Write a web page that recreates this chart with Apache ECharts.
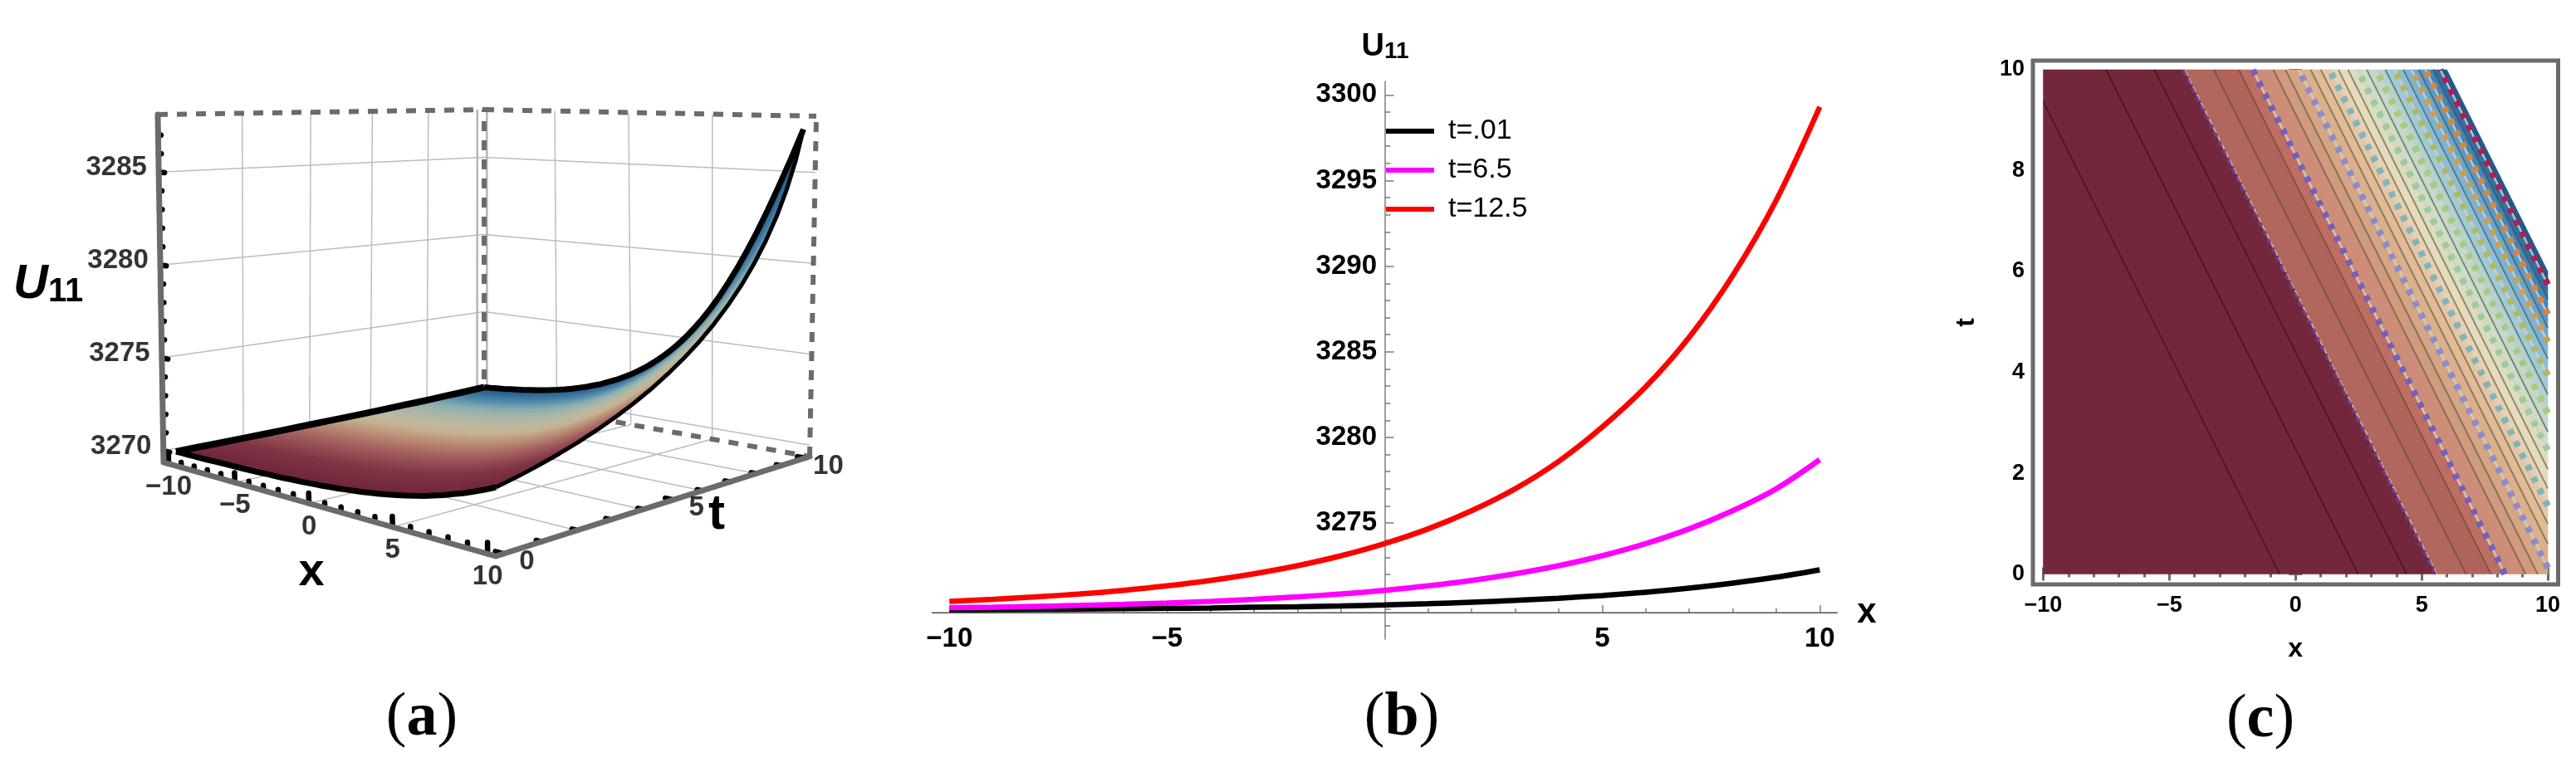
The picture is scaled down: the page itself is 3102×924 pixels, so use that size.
<!DOCTYPE html>
<html><head><meta charset="utf-8">
<style>html,body{margin:0;padding:0;background:#fff}#c{width:3102px;height:924px}</style>
<script src="https://cdn.jsdelivr.net/npm/echarts@6/dist/echarts.min.js"></script>
</head><body><div id="c"></div>
<script>
// ---------- data ----------
// panel (b)
const xB = [-10,-9,-8,-7,-6,-5,-4,-3,-2,-1,0,1,2,3,4,5,6,7,8,9,10];
const t001 = [3269.94,3269.95,3269.96,3269.98,3270.00,3270.02,3270.04,3270.08,3270.11,3270.16,3270.22,3270.29,3270.38,3270.48,3270.61,3270.77,3270.96,3271.20,3271.49,3271.84,3272.27];
const t65 = [3270.06,3270.09,3270.14,3270.19,3270.25,3270.33,3270.43,3270.55,3270.69,3270.86,3271.07,3271.33,3271.65,3272.04,3272.51,3273.09,3273.80,3274.66,3275.72,3277.00,3278.70];
const t125 = [3270.43,3270.55,3270.69,3270.86,3271.07,3271.33,3271.65,3272.04,3272.51,3273.09,3273.80,3274.66,3275.72,3277.00,3278.60,3280.60,3282.95,3285.85,3289.45,3293.85,3299.30];
const legendNames = ['t=.01','t=6.5','t=12.5'];
const yBLabels = [3275,3280,3285,3290,3295,3300];
const yBMinor = [3269,3270,3271,3272,3273,3274,3276,3277,3278,3279,3281,3282,3283,3284,3286,3287,3288,3289,3291,3292,3293,3294,3296,3297,3298,3299];
const xLabels = [-10,-5,5,10];
const xMinor = [-9,-8,-7,-6,-4,-3,-2,-1,1,2,3,4,6,7,8,9];
// panel (a): height of the sheet along x+t, for x+t = -10, -9.5, ... 20
const uByXi = [3269.94,3269.95,3269.95,3269.96,3269.96,3269.97,3269.98,3269.99,3270.00,3270.01,3270.02,3270.03,3270.04,3270.06,3270.08,3270.09,3270.11,3270.14,3270.16,3270.19,3270.22,3270.25,3270.29,3270.33,3270.38,3270.43,3270.48,3270.55,3270.61,3270.69,3270.77,3270.86,3270.96,3271.07,3271.20,3271.33,3271.49,3271.65,3271.84,3272.04,3272.27,3272.51,3272.79,3273.09,3273.43,3273.80,3274.21,3274.66,3275.16,3275.72,3276.33,3277.00,3277.75,3278.58,3279.49,3280.50,3281.61,3282.84,3284.21,3285.70,3287.37];
const zTicksA = [3270,3275,3280,3285];
const zMinorA = [3271,3272,3273,3274,3276,3277,3278,3279,3281,3282,3283,3284,3286,3287];
const xTicksA = [-10,-5,0,5,10];
const xMinorA = [-9,-8,-7,-6,-4,-3,-2,-1,1,2,3,4,6,7,8,9];
const tTicksA = [0,5,10];
const tMinorA = [1,2,3,4,6,7,8,9];
const xGridA = [-5,0,5];
const tGridA = [2,4,6,8];
// panel (c): contours of constant x+t
const contourLevels = [-0.63,2.48,4.4,5.6,6.76,7.75,8.3,9.12,9.6,10.12,10.6,11.0,11.35,11.7,12.08,12.46,12.82,13.19,13.56,13.94,14.27,14.6,14.88,15.15,15.45,15.74];
const fillEdges = [-10,5.6,6.76,7.75,8.3,9.12,9.6,10.12,10.6,11.0,11.35,11.7,12.08,12.46,12.82,13.19,13.56,13.94,14.27,14.6,14.88,15.15,15.45,15.74,16];
const dottedLevels = [8.3,10.12,11.35,12.46,13.19,13.94,14.6,15.15,15.74];
const xTicksC = [-10,-5,0,5,10];
const xMinorC = [-9,-8,-7,-6,-4,-3,-2,-1,1,2,3,4,6,7,8,9];
const yTicksC = [0,2,4,6,8,10];
const yMinorC = [0.5,1,1.5,2.5,3,3.5,4.5,5,5.5,6.5,7,7.5,8.5,9,9.5];

// ---------- styles ----------
const SANS = '"Liberation Sans", Arial, sans-serif';
const GRAY = '#6b6b6b';
const bandColors = ['#72283a','#b2675e','#b0635a','#bf6e62','#cd8d78','#d09a7c','#d6a583','#dcb08b','#e1bb95','#e6c6a2','#e8d0b0','#e6dabc','#dcdcc1','#cfdcc7','#c2d9cc','#b1d3d1','#9ecbd6','#8cc0d8','#79b4d8','#66a7d3','#559bcb','#4085bb','#2f72a6','#1f5a8a'];
const dottedColors = ['#7560b8','#8a8ccb','#7fb4bd','#9ccb9e','#a9c97f','#b0b866','#c8a055','#cf8748','#a8205c'];
const sheetStops = [[0,'#6e2438'],[1.5,'#7f3444'],[3,'#a5615f'],[4,'#b98a75'],[5,'#c4b292'],[5.8,'#bdb89f'],[6.8,'#a3b5a9'],[7.6,'#86acb0'],[8.5,'#4f87a8'],[9.3,'#2f6a96'],[10,'#1b4f80']];
function hex(c){return [1,3,5].map(i=>parseInt(c.substr(i,2),16));}
function sheetColor(t){
  for(let i=1;i<sheetStops.length;i++){ if(t<=sheetStops[i][0]){
    const a=sheetStops[i-1],b=sheetStops[i],f=(t-a[0])/(b[0]-a[0]),A=hex(a[1]),B=hex(b[1]);
    return 'rgb('+A.map((v,k)=>Math.round(v+(B[k]-v)*f)).join(',')+')'; } }
  return sheetStops[sheetStops.length-1][1];
}

// ---------- 3D projection for panel (a) ----------
const X0=-10.4,X1=10.4,T0=-0.2,T1=10.2,Z0=3269.37,Z1=3288.1;
function quad(q){
  const [p0,p1,p2,p3]=q,sx=p0[0]-p1[0]+p2[0]-p3[0],sy=p0[1]-p1[1]+p2[1]-p3[1];
  const dx1=p1[0]-p2[0],dx2=p3[0]-p2[0],dy1=p1[1]-p2[1],dy2=p3[1]-p2[1],den=dx1*dy2-dx2*dy1;
  const g=(sx*dy2-dx2*sy)/den,h=(dx1*sy-sx*dy1)/den;
  const a=p1[0]-p0[0]+g*p1[0],b=p3[0]-p0[0]+h*p3[0],d=p1[1]-p0[1]+g*p1[1],e=p3[1]-p0[1]+h*p3[1];
  return (u,v)=>{const w=g*u+h*v+1;return [(a*u+b*v+p0[0])/w,(d*u+e*v+p0[1])/w];};
}
const floorQ=quad([[197,557],[597,670],[975,550],[583,480]]);
const topQ=quad([[190,138],[594,152],[983,140],[583,132]]);
const topSheetQ=quad([[190,138],[602,168],[983,140],[583,132]]);
function project(x,t,z,q){
  const u=(x-X0)/(X1-X0),v=(t-T0)/(T1-T0),w=(z-Z0)/(Z1-Z0),a=floorQ(u,v),b=q(u,v);
  return [a[0]+(b[0]-a[0])*w,a[1]+(b[1]-a[1])*w];
}
const P=(x,t,z)=>project(x,t,z,topQ);
function U(x,t){return uByXi[Math.round((x+t+10)*2)];}
const S=(x,t)=>project(x,t,U(x,t),topSheetQ);
function path(points){const o=[];points.forEach(s=>{s.forEach(p=>o.push(P(p[0],p[1],p[2])));o.push([NaN,NaN]);});return o;}

// cells of the sheet, far to near
const cells=[];
for(let t=9.5;t>=0;t-=0.5){ for(let x=-10;x<10;x+=0.5){
  cells.push({c:[[x,t],[x+0.5,t],[x+0.5,t+0.5],[x,t+0.5]],a:sheetColor(t),b:sheetColor(t+0.5)});
}}
const edge=(f,n)=>{const o=[];for(let i=0;i<=n;i++)o.push(f(i));return o;};
const edgeT0=edge(i=>S(-10+i*0.5,0),40);
const edgeT10=edge(i=>S(-10+i*0.5,10),40);
const edgeX0=edge(i=>S(-10,i*0.5),20);
const edgeX10=edge(i=>S(10,i*0.5),20);

const gridLines=[];
zTicksA.forEach(z=>{gridLines.push([[X0,T0,z],[X0,T1,z]]);gridLines.push([[X0,T1,z],[X1,T1,z]]);});
tGridA.forEach(t=>{gridLines.push([[X0,t,Z0],[X0,t,Z1]]);gridLines.push([[X0,t,Z0],[X1,t,Z0]]);});
xGridA.forEach(x=>{gridLines.push([[x,T1,Z0],[x,T1,Z1]]);gridLines.push([[x,T0,Z0],[x,T1,Z0]]);});
const cornerLines=[[[X0+0.22,T1,Z0],[X0+0.22,T1,Z1]],[[X0,T1-0.28,Z0],[X0,T1-0.28,Z1]]];
const dashedBox=[[[X0,T0,Z1],[X0,T1,Z1]],[[X0,T1,Z1],[X1,T1,Z1]],[[X0,T1,Z0],[X0,T1,Z1]],[[X1,T1,Z0],[X1,T1,Z1]],[[X0,T1,Z0],[X1,T1,Z0]]];
const solidBox=[[[X0,T0,Z1],[X0,T0,Z0]],[[X0,T0,Z0],[X1,T0,Z0]],[[X1,T0,Z0],[X1,T1,Z0]]];
const tickSegs=[];
xTicksA.forEach(x=>tickSegs.push([[x,T0,Z0],[x,T0,Z0+0.5]]));
xMinorA.forEach(x=>tickSegs.push([[x,T0,Z0+0.16],[x,T0,Z0+0.26]]));
tTicksA.forEach(t=>tickSegs.push([[X1,t,Z0],[X1-0.4,t,Z0]]));
tMinorA.forEach(t=>tickSegs.push([[X1,t,Z0],[X1-0.25,t,Z0]]));
zTicksA.forEach(z=>tickSegs.push([[X0,T0,z],[X0+0.5,T0,z]]));
zMinorA.forEach(z=>tickSegs.push([[X0,T0,z],[X0+0.25,T0,z]]));

const fmt=v=>v<0?'\u2212'+Math.abs(v):String(v);
const lineA=(data,width,color,extra)=>({type:'line',xAxisIndex:0,yAxisIndex:0,data,symbol:'none',silent:true,clip:false,connectNulls:false,z:2,
  lineStyle:Object.assign({width,color,opacity:1},extra||{}),emphasis:{disabled:true}});
const textA=(data,size,dx,dy,extra)=>({type:'scatter',xAxisIndex:0,yAxisIndex:0,silent:true,symbolSize:1,itemStyle:{color:'rgba(0,0,0,0)'},z:6,clip:false,
  data:data.map(d=>[d[0][0]+dx,d[0][1]+dy,d[1]]),
  label:Object.assign({show:true,position:'inside',formatter:p=>p.data[2],color:'#000',fontFamily:SANS,fontWeight:'bold',fontSize:size},extra||{})});

// ---------- clipping helpers for panel (c) ----------
function clipHalf(poly,level,keepAbove){
  const out=[];
  for(let i=0;i<poly.length;i++){
    const a=poly[i],b=poly[(i+1)%poly.length],sa=a[0]+a[1]-level,sb=b[0]+b[1]-level;
    const ina=keepAbove?sa>=0:sa<=0,inb=keepAbove?sb>=0:sb<=0;
    if(ina)out.push(a);
    if(ina!==inb){const f=sa/(sa-sb);out.push([a[0]+(b[0]-a[0])*f,a[1]+(b[1]-a[1])*f]);}
  }
  return out;
}
const RECT=[[-10,0],[10,0],[10,10],[-10,10]];
const bandPoly=(a,b)=>clipHalf(clipHalf(RECT,a,true),b,false);
const contourEnds=l=>{const t0=Math.max(0,l-10),t1=Math.min(10,l+10);return [[l-t0,t0],[l-t1,t1]];};
function contourSeries(levels,width,colorOf,dash,z){
  return {type:'custom',xAxisIndex:3,yAxisIndex:3,z,silent:true,clip:true,
    data:levels.map((l,i)=>[l,i]),encode:{x:0,y:1},
    renderItem:(p,api)=>{const l=levels[p.dataIndex],e=contourEnds(l),a=api.coord(e[0]),b=api.coord(e[1]);
      return {type:'line',shape:{x1:a[0],y1:a[1],x2:b[0],y2:b[1]},style:{stroke:colorOf(l,p.dataIndex),lineWidth:width,lineDash:dash||null,lineCap:'butt',fill:null}};}};
}

// ---------- axes ----------
const sideAxis=(extra)=>Object.assign({type:'value',axisLine:{show:false},splitLine:{show:false},axisLabel:{show:false},axisTick:{show:false}},extra);
const ticks=(vals,len,w,c)=>({show:true,inside:true,length:len,customValues:vals,lineStyle:{color:c,width:w}});
const bx={gridIndex:1,min:-10.4,max:10.4,position:'bottom',offset:-32,axisLine:{onZero:false}};
const by={min:3268.22,max:3300.79,position:'left'};
const cx={gridIndex:2,min:-10.41,max:10.41};
const cy={gridIndex:2,min:-0.204,max:10.18};
const bLine='#7d7d7d';
const xAxes=[
  {type:'value',gridIndex:0,min:0,max:1040,show:false},
  sideAxis(Object.assign({},bx,{axisLine:{show:true,onZero:false,lineStyle:{color:bLine,width:1.5}},axisTick:ticks(xLabels,9,1.5,bLine),
    axisLabel:{show:true,customValues:xLabels,formatter:fmt,margin:15,color:'#000',fontFamily:SANS,fontWeight:'bold',fontSize:33},
    name:'x',nameLocation:'end',nameGap:24,nameTextStyle:{color:'#000',fontFamily:SANS,fontWeight:'bold',fontSize:42,verticalAlign:'middle'}})),
  sideAxis(Object.assign({},bx,{axisTick:ticks(xMinor,5,1.5,bLine)})),
  sideAxis(Object.assign({},cx,{position:'bottom',axisTick:ticks(xTicksC,8,3,GRAY),
    axisLabel:{show:true,customValues:xTicksC,formatter:fmt,margin:12,color:'#000',fontFamily:SANS,fontWeight:'bold',fontSize:27},
    name:'x',nameLocation:'middle',nameGap:62,nameTextStyle:{color:'#000',fontFamily:SANS,fontWeight:'bold',fontSize:32}})),
  sideAxis(Object.assign({},cx,{position:'bottom',axisTick:ticks(xMinorC,4,3,GRAY)})),
  sideAxis(Object.assign({},cx,{position:'top',axisTick:ticks(xTicksC,8,3,GRAY)})),
  sideAxis(Object.assign({},cx,{position:'top',axisTick:ticks(xMinorC,4,3,GRAY)})),
  {type:'value',gridIndex:3,min:0,max:1,show:false}
];
const yAxes=[
  {type:'value',gridIndex:0,min:0,max:924,inverse:true,show:false},
  sideAxis(Object.assign({gridIndex:1},by)),
  sideAxis(Object.assign({gridIndex:3},by,{axisLine:{show:true,onZero:false,lineStyle:{color:bLine,width:1.5}},axisTick:ticks(yBLabels,10.5,1.5,bLine),
    axisLabel:{show:true,customValues:yBLabels,formatter:v=>String(v),margin:10,color:'#000',fontFamily:SANS,fontWeight:'bold',fontSize:33},
    name:'U{s|11}',nameLocation:'end',nameGap:22,nameTextStyle:{color:'#000',fontFamily:SANS,fontWeight:'bold',fontSize:38,align:'center',rich:{s:{fontFamily:SANS,fontWeight:'bold',fontSize:28,verticalAlign:'bottom',color:'#000'}}}})),
  sideAxis(Object.assign({gridIndex:3},by,{axisTick:ticks(yBMinor,6.5,1.5,bLine)})),
  sideAxis(Object.assign({},cy,{position:'left',axisTick:ticks(yTicksC,8,3,GRAY),
    axisLabel:{show:true,customValues:yTicksC,margin:10,color:'#000',fontFamily:SANS,fontWeight:'bold',fontSize:27},
    name:'t',nameLocation:'middle',nameGap:64,nameTextStyle:{color:'#000',fontFamily:SANS,fontWeight:'bold',fontSize:32}})),
  sideAxis(Object.assign({},cy,{position:'left',axisTick:ticks(yMinorC,4,3,GRAY)})),
  sideAxis(Object.assign({},cy,{position:'right',axisTick:ticks(yTicksC,8,3,GRAY)})),
  sideAxis(Object.assign({},cy,{position:'right',axisTick:ticks(yMinorC,4,3,GRAY)}))
];
const C_X=3, C_Y=4;

const lineB=(name,vals,color)=>({type:'line',name,xAxisIndex:1,yAxisIndex:1,data:xB.map((x,i)=>[x,vals[i]]),smooth:0.33,symbol:'none',clip:false,z:3,
  lineStyle:{color,width:6.5,cap:'butt'},itemStyle:{color},emphasis:{disabled:true}});

function cSeries(s){s.xAxisIndex=C_X;s.yAxisIndex=C_Y;return s;}
const dots=dottedLevels.map((l,i)=>cSeries(contourSeries([l],8,()=>dottedColors[i],[7,9],5)));

const series=[
  // panel (a)
  lineA(path(gridLines),1.5,'#bdbdbd'),
  lineA(path(cornerLines),2.5,'#b5b5b5'),
  lineA(path(dashedBox),6,GRAY,{type:[12,11]}),
  {type:'custom',xAxisIndex:0,yAxisIndex:0,z:3,silent:true,clip:false,
    data:cells.map(c=>S(c.c[0][0],c.c[0][1])),
    renderItem:(p,api)=>{const c=cells[p.dataIndex];
      const pts=c.c.map(q=>api.coord(S(q[0],q[1])));
      const m0=[(pts[0][0]+pts[1][0])/2,(pts[0][1]+pts[1][1])/2],m1=[(pts[2][0]+pts[3][0])/2,(pts[2][1]+pts[3][1])/2];
      const ex=pts[1][0]-pts[0][0],ey=pts[1][1]-pts[0][1],el=Math.hypot(ex,ey)||1,nx=-ey/el,ny=ex/el;
      const k=(m1[0]-m0[0])*nx+(m1[1]-m0[1])*ny;
      const grad={type:'linear',global:true,x:m0[0],y:m0[1],x2:m0[0]+nx*k,y2:m0[1]+ny*k,colorStops:[{offset:0,color:c.a},{offset:1,color:c.b}]};
      return {type:'polygon',shape:{points:pts},style:{fill:grad,stroke:grad,lineWidth:1}};}},
  Object.assign(lineA(edgeT10,7,'#000',{join:'round'}),{z:4}),
  Object.assign(lineA(edgeT0,7,'#000',{join:'round'}),{z:4}),
  Object.assign(lineA(edgeX0,8,'#000',{join:'round'}),{z:4}),
  Object.assign(lineA(edgeX10,5,'#000',{join:'round'}),{z:4}),
  lineA(path(tickSegs),6.5,'#000',{cap:'round'}),
  Object.assign(lineA(path(solidBox),7,GRAY,{cap:'round',join:'round'}),{z:5}),
  textA(zTicksA.map(z=>[P(X0,T0,z),String(z)]),33,-51,-5),
  textA(xTicksA.map(x=>[P(x,T0,Z0),fmt(x)]),33,0,28),
  textA(tTicksA.map(t=>[P(X1,t,Z0),String(t)]),33,28,10),
  // panel (b)
  lineB(legendNames[0],t001,'#000000'),
  lineB(legendNames[1],t65,'#ff00ff'),
  lineB(legendNames[2],t125,'#ff0000'),
  // panel (c)
  cSeries({type:'custom',z:2,silent:true,clip:true,
    data:bandColors.map((c,i)=>[fillEdges[i],i]),encode:{x:0,y:1},
    renderItem:(p,api)=>{const i=p.dataIndex,pts=bandPoly(fillEdges[i],fillEdges[i+1]).map(q=>api.coord(q));
      return {type:'polygon',shape:{points:pts},style:{fill:bandColors[i],stroke:bandColors[i],lineWidth:0.5}};}}),
  cSeries(contourSeries(contourLevels,1.8,(l)=>l<5?'rgba(40,10,20,0.55)':'rgba(70,70,50,0.6)',null,3)),
  cSeries(contourSeries([fillEdges[1]],2,()=>'rgba(228,190,170,0.85)',[8,3],4)),
  cSeries(contourSeries([fillEdges[1]-0.07],3.5,()=>'#6e3a94',[7,5],4)),
  cSeries(contourSeries(dottedLevels,2.5,()=>'rgba(240,228,215,0.75)',null,4))
].concat(dots);

const caption=(letter,x,y)=>({type:'text',x,y,silent:true,style:{text:'{p|(}{l|'+letter+'}{p|)}',align:'center',verticalAlign:'middle',
  rich:{p:{font:'74px "Liberation Serif", serif',fill:'#000'},l:{font:'bold 74px "Liberation Serif", serif',fill:'#000'}}}});
const axisTitle=(txt,x,y,size)=>({type:'text',x,y,silent:true,style:{text:txt,font:'bold '+size+'px '+SANS,fill:'#000',align:'center',verticalAlign:'middle'}});

const chart=echarts.init(document.getElementById('c'),null,{renderer:'canvas'});
chart.setOption({
  animation:false,backgroundColor:'#fff',
  grid:[
    {left:0,top:0,width:1040,height:924,outerBoundsMode:'none'},
    {left:1122.3,top:98,width:1090,height:672,outerBoundsMode:'none'},
    {left:2448,top:73,width:632.5,height:631,outerBoundsMode:'none',show:true,borderWidth:5,borderColor:GRAY,backgroundColor:'#fff'},
    {left:1668,top:98,width:544,height:672,outerBoundsMode:'none'}
  ],
  xAxis:xAxes,yAxis:yAxes,
  legend:{show:true,data:legendNames,orient:'vertical',left:1664,top:136,icon:'rect',itemWidth:58,itemHeight:6,itemGap:13,selectedMode:false,
    textStyle:{color:'#000',fontFamily:SANS,fontSize:34,padding:[0,0,0,12]},align:'left'},
  tooltip:{show:false},
  series,
  graphic:[
    axisTitle('x',375,690,56),
    axisTitle('t',863,620,60),
    {type:'text',x:16,y:343,silent:true,style:{text:'{u|U}{s|11}',rich:{u:{font:'italic bold 58px '+SANS,fill:'#000'},s:{font:'bold 40px '+SANS,fill:'#000',verticalAlign:'bottom'}},verticalAlign:'middle',align:'left',fill:'#000'}},
    caption('a',508,866),
    caption('b',1688,866),
    caption('c',2722,868)
  ]
});
</script></body></html>
